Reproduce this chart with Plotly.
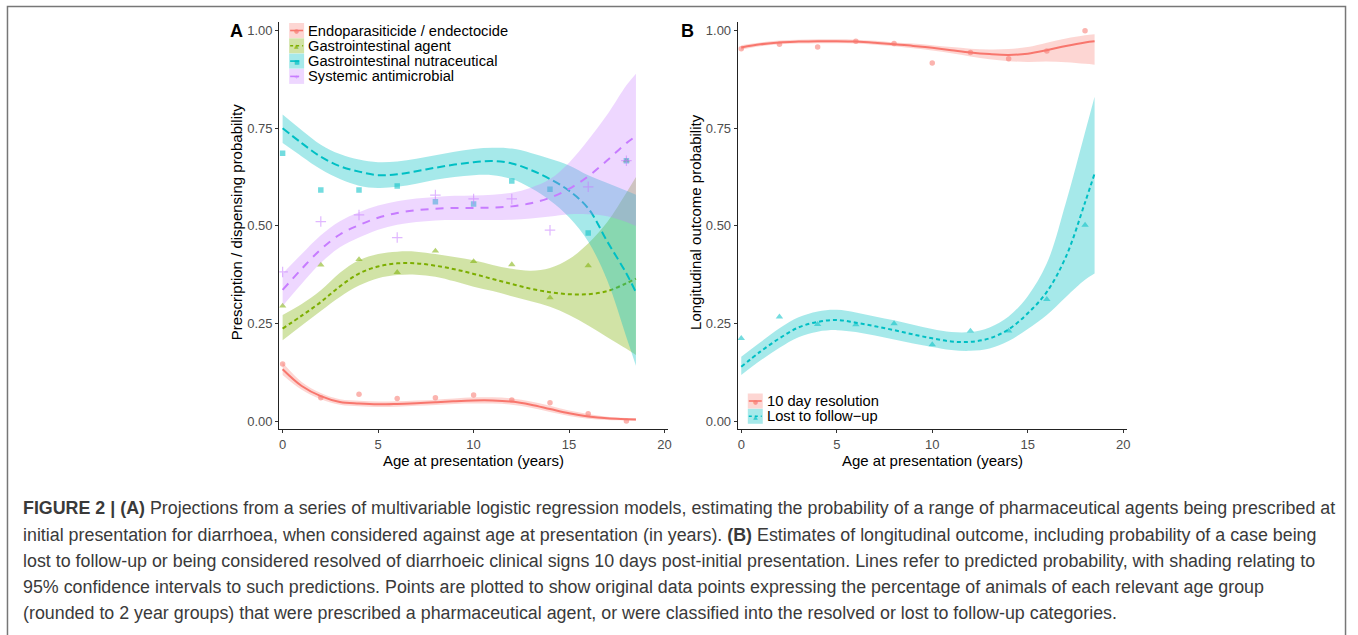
import plotly.graph_objects as go

# ---------------- data ----------------
age_points = [0, 2, 4, 6, 8, 10, 12, 14, 16, 18]
age_curve = [0, 1, 2, 3, 4, 5, 6, 7, 8, 9, 10, 11, 12, 13, 14, 15, 16, 17, 18, 18.5]

# Panel A
endo_pts = [0.146, 0.060, 0.069, 0.058, 0.060, 0.067, 0.054, 0.047, 0.019, 0.000]
endo_fit = [0.133, 0.090, 0.064, 0.049, 0.045, 0.043, 0.044, 0.046, 0.048, 0.051,
            0.053, 0.053, 0.050, 0.042, 0.031, 0.020, 0.012, 0.007, 0.005, 0.004]
endo_lo = [0.118, 0.080, 0.056, 0.042, 0.038, 0.036, 0.037, 0.039, 0.041, 0.044,
           0.045, 0.045, 0.042, 0.034, 0.023, 0.013, 0.006, 0.003, 0.002, 0.001]
endo_hi = [0.150, 0.100, 0.072, 0.056, 0.052, 0.050, 0.051, 0.053, 0.055, 0.058,
           0.061, 0.061, 0.058, 0.050, 0.039, 0.027, 0.018, 0.011, 0.008, 0.007]

gia_pts = [0.295, 0.400, 0.414, 0.381, 0.436, 0.409, 0.401, 0.316, 0.398, 0.667]
gia_fit = [0.237, 0.270, 0.305, 0.345, 0.378, 0.396, 0.404, 0.404, 0.398, 0.389,
           0.377, 0.364, 0.351, 0.339, 0.330, 0.325, 0.325, 0.333, 0.353, 0.365]
gia_lo = [0.207, 0.245, 0.282, 0.318, 0.347, 0.366, 0.374, 0.375, 0.370, 0.358,
          0.344, 0.333, 0.320, 0.307, 0.293, 0.272, 0.245, 0.215, 0.185, 0.169]
gia_hi = [0.272, 0.300, 0.335, 0.380, 0.412, 0.428, 0.434, 0.434, 0.428, 0.420,
          0.412, 0.400, 0.390, 0.385, 0.392, 0.415, 0.455, 0.510, 0.585, 0.625]

gin_pts = [0.686, 0.592, 0.592, 0.602, 0.562, 0.556, 0.615, 0.594, 0.482, 0.667]
gin_fit = [0.750, 0.712, 0.677, 0.653, 0.639, 0.630, 0.632, 0.640, 0.649, 0.657,
           0.663, 0.666, 0.660, 0.643, 0.620, 0.590, 0.545, 0.460, 0.378, 0.330]
gin_lo = [0.712, 0.678, 0.645, 0.620, 0.603, 0.597, 0.600, 0.608, 0.618, 0.625,
          0.630, 0.630, 0.620, 0.597, 0.565, 0.522, 0.460, 0.360, 0.215, 0.142]
gin_hi = [0.785, 0.745, 0.708, 0.684, 0.670, 0.663, 0.665, 0.672, 0.681, 0.690,
          0.697, 0.700, 0.698, 0.687, 0.672, 0.655, 0.630, 0.610, 0.590, 0.580]

sam_pts = [0.382, 0.511, 0.528, 0.470, 0.579, 0.569, 0.569, 0.489, 0.600, 0.667]
sam_fit = [0.336, 0.390, 0.440, 0.478, 0.502, 0.521, 0.533, 0.540, 0.544, 0.546,
           0.546, 0.547, 0.550, 0.558, 0.572, 0.595, 0.627, 0.668, 0.712, 0.730]
sam_lo = [0.295, 0.352, 0.405, 0.445, 0.470, 0.490, 0.503, 0.510, 0.514, 0.515,
          0.515, 0.515, 0.516, 0.519, 0.524, 0.530, 0.530, 0.525, 0.510, 0.500]
sam_hi = [0.378, 0.428, 0.476, 0.512, 0.535, 0.552, 0.563, 0.570, 0.574, 0.577,
          0.578, 0.580, 0.585, 0.598, 0.620, 0.662, 0.720, 0.785, 0.860, 0.890]

# Panel B
res_pts = [0.954, 0.965, 0.958, 0.973, 0.967, 0.917, 0.944, 0.928, 0.948, 1.000]
res_fit = [0.957, 0.965, 0.970, 0.972, 0.973, 0.973, 0.972, 0.969, 0.965, 0.961,
           0.956, 0.950, 0.944, 0.940, 0.938, 0.941, 0.950, 0.961, 0.970, 0.973]
res_lo = [0.951, 0.960, 0.965, 0.967, 0.968, 0.968, 0.967, 0.964, 0.960, 0.955,
          0.949, 0.942, 0.934, 0.927, 0.922, 0.920, 0.921, 0.919, 0.915, 0.913]
res_hi = [0.963, 0.970, 0.975, 0.977, 0.978, 0.978, 0.977, 0.974, 0.970, 0.967,
          0.963, 0.958, 0.954, 0.952, 0.953, 0.958, 0.969, 0.980, 0.988, 0.991]

ltf_pts = [0.212, 0.267, 0.248, 0.247, 0.250, 0.196, 0.231, 0.231, 0.312, 0.502]
ltf_fit = [0.139, 0.178, 0.212, 0.240, 0.254, 0.259, 0.252, 0.243, 0.233, 0.222,
           0.212, 0.204, 0.203, 0.212, 0.235, 0.276, 0.331, 0.421, 0.560, 0.634]
ltf_lo = [0.118, 0.155, 0.188, 0.215, 0.229, 0.233, 0.228, 0.219, 0.209, 0.199,
          0.190, 0.182, 0.180, 0.186, 0.205, 0.236, 0.272, 0.318, 0.362, 0.378]
ltf_hi = [0.165, 0.202, 0.238, 0.266, 0.281, 0.285, 0.278, 0.268, 0.258, 0.247,
          0.236, 0.228, 0.228, 0.240, 0.268, 0.320, 0.404, 0.560, 0.740, 0.831]

x_ticks = [0, 5, 10, 15, 20]
y_ticks = [0, 0.25, 0.5, 0.75, 1.0]
y_ticklabels = ["0.00", "0.25", "0.50", "0.75", "1.00"]

legend_a = ["Endoparasiticide / endectocide", "Gastrointestinal agent",
            "Gastrointestinal nutraceutical", "Systemic antimicrobial"]
legend_b = ["10 day resolution", "Lost to follow\u2212up"]

caption_lines = [
    "<b>FIGURE 2 | (A)</b> Projections from a series of multivariable logistic regression models, estimating the probability of a range of pharmaceutical agents being prescribed at",
    "initial presentation for diarrhoea, when considered against age at presentation (in years). <b>(B)</b> Estimates of longitudinal outcome, including probability of a case being",
    "lost to follow-up or being considered resolved of diarrhoeic clinical signs 10 days post-initial presentation. Lines refer to predicted probability, with shading relating to",
    "95% confidence intervals to such predictions. Points are plotted to show original data points expressing the percentage of animals of each relevant age group",
    "(rounded to 2 year groups) that were prescribed a pharmaceutical agent, or were classified into the resolved or lost to follow-up categories.",
]

# ---------------- styling ----------------
W, H = 1358, 635
FONT = "Liberation Sans, Arial, Helvetica, sans-serif"
RED = "#F8766D"
GREEN = "#7CAE00"
CYAN = "#00BFC4"
PURPLE = "#C77CFF"


def rgba(hexc, a):
    h = hexc.lstrip("#")
    return "rgba(%d,%d,%d,%.2f)" % (int(h[0:2], 16), int(h[2:4], 16), int(h[4:6], 16), a)


def px_x(p):
    return p / W


def px_y(p):
    return 1 - p / H


fig = go.Figure()


def add_series(xa, ya, pts, fit, lo, hi, color, dash, symbol, msize, fill_a=0.35):
    fig.add_trace(go.Scatter(x=age_points, y=pts, mode="markers", xaxis=xa, yaxis=ya,
                             marker=dict(symbol=symbol, size=msize, color=rgba(color, 0.55),
                                         line=dict(width=1.2 if "cross" in symbol else 0,
                                                   color=rgba(color, 0.55))),
                             showlegend=False, hoverinfo="skip"))
    fig.add_trace(go.Scatter(x=age_curve, y=lo, mode="lines", xaxis=xa, yaxis=ya,
                             line=dict(width=0, shape="spline", color=rgba(color, 0)),
                             showlegend=False, hoverinfo="skip"))
    fig.add_trace(go.Scatter(x=age_curve, y=hi, mode="lines", xaxis=xa, yaxis=ya,
                             line=dict(width=0, shape="spline", color=rgba(color, 0)),
                             fill="tonexty", fillcolor=rgba(color, fill_a),
                             showlegend=False, hoverinfo="skip"))
    fig.add_trace(go.Scatter(x=age_curve, y=fit, mode="lines", xaxis=xa, yaxis=ya,
                             line=dict(width=2, shape="spline", color=color, dash=dash),
                             showlegend=False, hoverinfo="skip"))


add_series("x", "y", endo_pts, endo_fit, endo_lo, endo_hi, RED, "solid", "circle", 5.5, 0.3)
add_series("x", "y", gia_pts, gia_fit, gia_lo, gia_hi, GREEN, "4px,3px", "triangle-up", 6.5)
add_series("x", "y", gin_pts, gin_fit, gin_lo, gin_hi, CYAN, "8px,4px", "square", 5.5)
add_series("x", "y", sam_pts, sam_fit, sam_lo, sam_hi, PURPLE, "8px,7px", "cross-thin", 7.5, 0.3)

add_series("x2", "y2", res_pts, res_fit, res_lo, res_hi, RED, "solid", "circle", 5.5, 0.3)
add_series("x2", "y2", ltf_pts, ltf_fit, ltf_lo, ltf_hi, CYAN, "4px,3px", "triangle-up", 6.5)

axis_common = dict(showgrid=False, zeroline=False, showline=True, linecolor="#222",
                   linewidth=1.2, ticks="outside", ticklen=3, tickwidth=1, tickcolor="#333",
                   tickfont=dict(family=FONT, size=13, color="#4D4D4D"))

xr = [-0.18, 20.18]
yr = [-0.021, 1.023]
ydom = [px_y(429.3), px_y(21.7)]

fig.update_layout(
    width=W, height=H, margin=dict(l=0, r=0, t=0, b=0),
    paper_bgcolor="white", plot_bgcolor="white",
    showlegend=False,
    xaxis=dict(domain=[px_x(280), px_x(670)], range=xr, tickvals=x_ticks,
               anchor="y", **axis_common),
    yaxis=dict(domain=ydom, range=yr, tickvals=y_ticks, ticktext=y_ticklabels,
               anchor="x", **axis_common),
    xaxis2=dict(domain=[px_x(740), px_x(1130)], range=xr, tickvals=x_ticks,
                anchor="y2", **axis_common),
    yaxis2=dict(domain=ydom, range=yr, tickvals=y_ticks, ticktext=y_ticklabels,
                anchor="x2", **axis_common),
)

shapes = []
annotations = []

# outer frame
shapes.append(dict(type="rect", xref="paper", yref="paper",
                   x0=px_x(7.5), x1=px_x(1349.5), y0=-0.05, y1=px_y(6.5),
                   line=dict(color="#777", width=1.5), fillcolor="rgba(0,0,0,0)", layer="below"))

# axis titles
for cx, txt in [(475, "Age at presentation (years)"), (935, "Age at presentation (years)")]:
    annotations.append(dict(x=px_x(cx), y=px_y(460), xref="paper", yref="paper", text=txt,
                            showarrow=False, font=dict(family=FONT, size=15, color="#000"),
                            xanchor="center", yanchor="middle"))
for cx, txt in [(237, "Prescription / dispensing probability"), (697, "Longitudinal outcome probability")]:
    annotations.append(dict(x=px_x(cx), y=px_y(222), xref="paper", yref="paper", text=txt,
                            showarrow=False, textangle=-90,
                            font=dict(family=FONT, size=15, color="#000"),
                            xanchor="center", yanchor="middle"))

# panel letters
for cx, txt in [(237, "A"), (690, "B")]:
    annotations.append(dict(x=px_x(cx), y=px_y(31), xref="paper", yref="paper",
                            text="<b>%s</b>" % txt, showarrow=False,
                            font=dict(family=FONT, size=18, color="#000"),
                            xanchor="center", yanchor="middle"))


def legend_key(x0, ytop, hgt, color, dash, sym, fill_a):
    shapes.append(dict(type="rect", xref="paper", yref="paper",
                       x0=px_x(x0), x1=px_x(x0 + 15), y0=px_y(ytop + hgt), y1=px_y(ytop),
                       line=dict(width=0), fillcolor=rgba(color, fill_a)))
    dd = "solid" if dash == "solid" else ("dot" if dash.startswith("4") else "dash")
    shapes.append(dict(type="line", xref="paper", yref="paper",
                       x0=px_x(x0 + 1), x1=px_x(x0 + 14), y0=px_y(ytop + hgt / 2), y1=px_y(ytop + hgt / 2),
                       line=dict(color=color, width=1.6, dash=dd)))
    annotations.append(dict(x=px_x(x0 + 7.5), y=px_y(ytop + hgt / 2), xref="paper", yref="paper",
                            text=sym, showarrow=False,
                            font=dict(family="DejaVu Sans", size=6, color=rgba(color, 0.7)),
                            xanchor="center", yanchor="middle"))


leg_a_style = [(RED, "solid", "\u25cf", 0.3), (GREEN, "4", "\u25b2", 0.35),
               (CYAN, "8", "\u25a0", 0.35), (PURPLE, "8", "+", 0.3)]
for i, (lab, st) in enumerate(zip(legend_a, leg_a_style)):
    ytop = 23 + i * 15.3
    legend_key(290, ytop, 15, st[0], st[1], st[2], st[3])
    annotations.append(dict(x=px_x(307), y=px_y(ytop + 7.5), xref="paper", yref="paper",
                            text=lab, showarrow=False,
                            font=dict(family=FONT, size=14.7, color="#000"),
                            xanchor="left", yanchor="middle"))

leg_b_style = [(RED, "solid", "\u25cf", 0.3), (CYAN, "4", "\u25b2", 0.35)]
for i, (lab, st) in enumerate(zip(legend_b, leg_b_style)):
    ytop = 393.5 + i * 15.3
    legend_key(750, ytop, 15, st[0], st[1], st[2], st[3])
    annotations.append(dict(x=px_x(767), y=px_y(ytop + 7.5), xref="paper", yref="paper",
                            text=lab, showarrow=False,
                            font=dict(family=FONT, size=14.7, color="#000"),
                            xanchor="left", yanchor="middle"))

# caption
cap_y = [508, 534.5, 561, 587, 613]
for yy, line in zip(cap_y, caption_lines):
    annotations.append(dict(x=px_x(21), y=px_y(yy), xref="paper", yref="paper",
                            text=line, showarrow=False,
                            font=dict(family=FONT, size=17.85, color="#3a3a3a"),
                            xanchor="left", yanchor="middle"))

fig.update_layout(shapes=shapes, annotations=annotations)

fig.write_html("out.html", config={"displayModeBar": False},
               post_script="document.body.style.margin='0';document.body.style.overflow='hidden';")
